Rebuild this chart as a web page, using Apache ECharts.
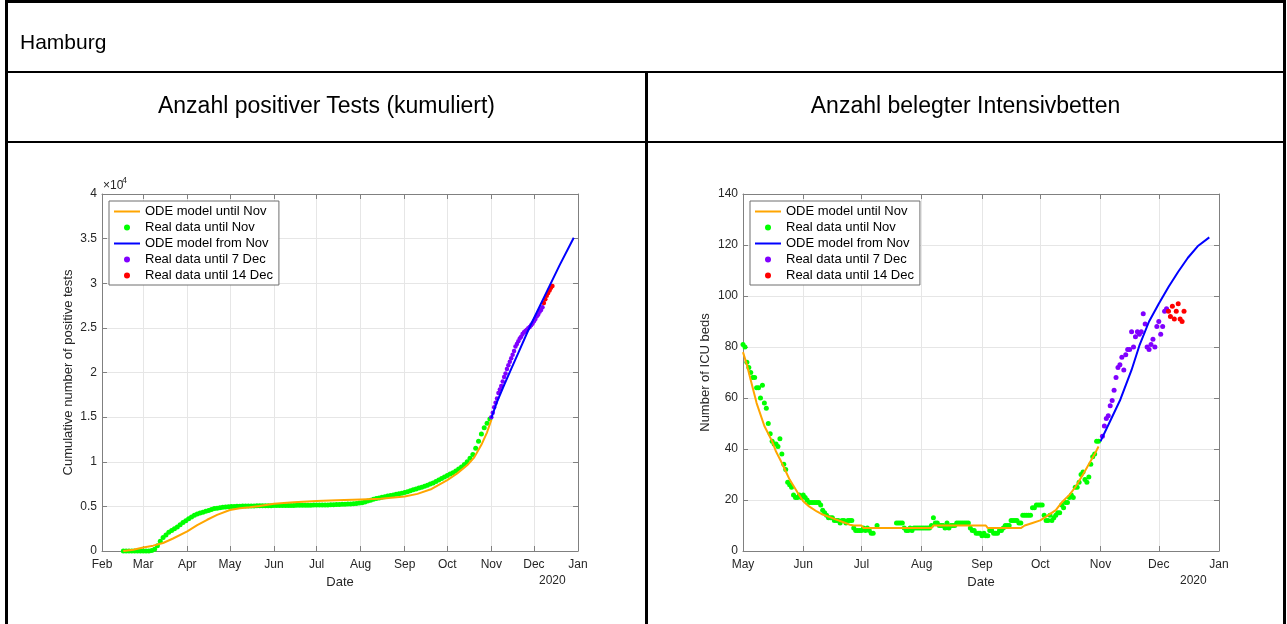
<!DOCTYPE html>
<html lang="de">
<head>
<meta charset="UTF-8">
<title>Hamburg</title>
<script src="https://cdn.jsdelivr.net/npm/echarts@6/dist/echarts.min.js"></script>
<style>
  body { margin:0; width:1287px; height:624px; overflow:hidden; background:#fff; position:relative;
         font-family:"Liberation Sans", Arial, Helvetica, sans-serif; }
  #main { position:absolute; left:0; top:0; width:1287px; height:624px; }
  .line { position:absolute; background:#000; }
  .txt { position:absolute; color:#000; white-space:nowrap; line-height:1; }
</style>
</head>
<body>
<div id="main"></div>

<!-- table frame -->
<div class="line" style="left:5px;top:0;width:1281px;height:3px"></div>
<div class="line" style="left:5px;top:0;width:3px;height:624px"></div>
<div class="line" style="left:1283px;top:0;width:3px;height:624px"></div>
<div class="line" style="left:5px;top:71px;width:1281px;height:2px"></div>
<div class="line" style="left:5px;top:141px;width:1281px;height:2px"></div>
<div class="line" style="left:645px;top:71px;width:3px;height:553px"></div>

<div class="txt" style="left:20px;top:31px;font-size:21px">Hamburg</div>
<div class="txt" style="left:8px;width:637px;top:94px;font-size:23px;text-align:center">Anzahl positiver Tests (kumuliert)</div>
<div class="txt" style="left:648px;width:635px;top:94px;font-size:23px;text-align:center">Anzahl belegter Intensivbetten</div>

<script>
// ---------- data: positive tests (cumulative) ----------
const testsRealStart = '2020-02-16';
const testsRealStep = 2;
const testsRealUntilNov = [
  // Feb
  0, 0, 0, 0, 0, 0, 0,
  // Mar
  0, 0, 0, 50, 200, 600, 1100, 1500, 1800, 2100, 2300, 2500, 2700, 2950, 3200, 3400,
  // Apr
  3600, 3800, 4000, 4150, 4250, 4350, 4450, 4550, 4650, 4750, 4800, 4850, 4900, 4930, 4960,
  // May
  4980, 5000, 5010, 5020, 5030, 5040, 5040, 5050, 5050, 5060, 5060, 5070, 5070, 5080, 5080,
  // Jun
  5090, 5090, 5100, 5100, 5100, 5110, 5110, 5110, 5120, 5120, 5120, 5130, 5130, 5140, 5150,
  // Jul
  5150, 5150, 5160, 5160, 5160, 5170, 5190, 5200, 5210, 5230, 5250, 5260, 5280, 5300, 5330, 5380,
  // Aug
  5420, 5500, 5600, 5700, 5800, 5880, 5950, 6020, 6080, 6150, 6220, 6280, 6350, 6420, 6480,
  // Sep
  6550, 6650, 6750, 6850, 6950, 7050, 7150, 7250, 7370, 7500, 7630, 7780, 7950, 8120, 8280,
  // Oct
  8450, 8620, 8780, 8950, 9180, 9420, 9700, 10000, 10400, 10800, 11500, 12300, 13100, 13800, 14300, 14800
];
const testsRealDecStart = '2020-11-01';
const testsRealUntil7Dec = [
  15000, 15500, 16100, 16600, 17100, 17700, 18100, 18500, 19000, 19500,
  19900, 20400, 20800, 21200, 21600, 22000, 22400, 22900, 23200, 23500,
  23800, 24000, 24300, 24500, 24650, 24800, 24950, 25100, 25300, 25500,
  25750, 26000, 26300, 26500, 26800, 27000, 27300
];
const testsReal14DecStart = '2020-12-08';
const testsRealUntil14Dec = [27800, 28200, 28600, 28900, 29200, 29500, 29700];

const testsModelDates = ['2020-02-16', '2020-02-23', '2020-03-01', '2020-03-08', '2020-03-15', '2020-03-22',
  '2020-04-01', '2020-04-08', '2020-04-15', '2020-04-22', '2020-05-01', '2020-05-08', '2020-05-15',
  '2020-05-22', '2020-06-01', '2020-06-15', '2020-07-01', '2020-07-15', '2020-08-01', '2020-08-15',
  '2020-09-01', '2020-09-10', '2020-09-20', '2020-10-01', '2020-10-08', '2020-10-15', '2020-10-20',
  '2020-10-25', '2020-10-29', '2020-11-01'];
const testsModelUntilNov = [0, 150, 400, 600, 900, 1400,
  2200, 2900, 3500, 4050, 4600, 4800, 4900,
  5050, 5300, 5450, 5600, 5680, 5780, 5850,
  6100, 6400, 6950, 7950, 8700, 9600, 10500,
  11900, 13300, 14700];
const testsModelFromDates = ['2020-11-01', '2020-11-05', '2020-11-10', '2020-11-15', '2020-11-20',
  '2020-11-28', '2020-12-05', '2020-12-12', '2020-12-19', '2020-12-29'];
const testsModelFromNov = [14900, 16700, 18600, 20400, 22200, 25100, 27400, 29700, 32000, 35100];

// ---------- data: ICU beds ----------
const icuRealStart = '2020-05-01';
const icuRealUntilNov = [
  // May
  81, 80, 74, 72, 70, 68, 68, 64, 64, 60, 65, 58, 56, 50, 46, 43, 42, 42, 41, 44,
  38, 34, 32, 27, 26, 25, 22, 21, 21, 22, 21,
  // Jun
  22, 21, 20, 19, 19, 19, 19, 19, 19, 18, 16, 15, 14, 13, 13, 13, 12, 12, 12, 11,
  12, 12, 11, 12, 12, 12, 9, 8, 8, 8,
  // Jul
  8, 9, 8, 9, 8, 7, 7, null, 10, null, null, null, null, null, null, null, null, null,
  11, 11, 11, 11, 9, 8, 8, 9, 8, 9, 9, 9, 9,
  // Aug
  9, 9, 9, 9, 9, 10, 13, 11, 11, 10, 10, 10, 9, 11, 9, 10, 10, 10, 11, 11,
  11, 11, 11, 11, 11, 9, 8, 8, 7, 7, 7,
  // Sep
  6, 7, 6, 6, 8, 8, 7, 7, 7, 8, 8, 9, 10, 10, 10, 12, 12, 12, 12, 11,
  11, 14, 14, 14, 14, 14, 17, 17, 18, 18,
  // Oct
  18, 18, 14, 12, 12, 14, 12, 13, 14, 15, 15, 18, 17, 19, 19, 21, 22, 21, 25, 25,
  27, 30, 31, 28, 27, 29, 34, 37, 38, 43, 43
];
const icuReal7DecStart = '2020-11-02';
const icuRealUntil7Dec = [45, 49, 52, 53, 57, 59, 63, 68, 72, 73, 76, 71, 77, 79, 79, 86, 80,
  84, 86, 85, 86, 93, 89, 80, 79, 81, 83, 80, 88, 90, 85, 88, 94, 95];
const icuReal14DecStart = '2020-12-06';
const icuRealUntil14Dec = [94, 92, 96, 91, 94, 97, 91, 90, 94];

const icuModelDates = ['2020-05-01', '2020-05-03', '2020-05-05', '2020-05-08', '2020-05-12', '2020-05-16',
  '2020-05-18', '2020-05-21', '2020-05-25', '2020-05-29', '2020-06-01', '2020-06-04', '2020-06-08',
  '2020-06-11', '2020-06-15', '2020-06-18', '2020-06-22', '2020-06-25', '2020-06-27', '2020-07-01',
  '2020-07-02', '2020-08-06', '2020-08-07', '2020-09-03', '2020-09-04', '2020-09-21', '2020-09-23',
  '2020-09-27', '2020-10-01', '2020-10-05', '2020-10-09', '2020-10-12', '2020-10-16', '2020-10-19',
  '2020-10-23', '2020-10-26', '2020-10-29', '2020-10-31'];
const icuModelUntilNov = [78, 73, 67, 58, 49, 43,
  39, 34.5, 28, 23, 19.5, 17.5, 15.5,
  14.3, 13.2, 12.3, 11.2, 10.3, 10, 10,
  9, 9, 10, 10, 9, 9, 10,
  11, 12, 14, 16, 19, 22, 25,
  30, 34, 38, 41];
const icuModelFromDates = ['2020-11-01', '2020-11-06', '2020-11-11', '2020-11-17', '2020-11-21',
  '2020-11-26', '2020-12-01', '2020-12-06', '2020-12-11', '2020-12-16', '2020-12-21', '2020-12-27'];
const icuModelFromNov = [43, 51, 59, 71, 80.5, 90, 97, 103.5, 109.5, 115, 119.5, 123];

const monthNames = ['Jan', 'Feb', 'Mar', 'Apr', 'May', 'Jun', 'Jul', 'Aug', 'Sep', 'Oct', 'Nov', 'Dec'];
const seriesNames = ['ODE model until Nov', 'Real data until Nov', 'ODE model from Nov',
  'Real data until 7 Dec', 'Real data until 14 Dec'];

// ---------- helpers ----------
const DAY = 86400000;
const ts = s => Date.UTC(+s.slice(0, 4), +s.slice(5, 7) - 1, +s.slice(8, 10));
const stepped = (start, step, vals) => vals.map((v, i) => [ts(start) + i * step * DAY, v]);
const paired = (dates, vals) => dates.map((d, i) => [ts(d), vals[i]]);

const FONT = '"Liberation Sans", Arial, Helvetica, sans-serif';
const axisColor = '#808080';
const gridColor = '#e6e6e6';
const textColor = '#262626';
const cOrange = '#ffa500', cGreen = '#00ff00', cBlue = '#0000ff', cPurple = '#8000ff', cRed = '#ff0000';

function xAxisOf(gridIndex, min, max, split, bottom) {
  return {
    type: 'time', gridIndex, position: bottom ? 'bottom' : 'top',
    min: ts(min), max: ts(max), splitNumber: split, maxInterval: 31 * DAY,
    name: bottom ? 'Date' : '', nameLocation: 'middle', nameGap: 24,
    nameTextStyle: { fontFamily: FONT, fontSize: 13, color: textColor },
    axisLine: { show: true, onZero: false, lineStyle: { color: axisColor, width: 1 } },
    axisTick: { show: true, inside: true, length: 5, lineStyle: { color: axisColor } },
    axisLabel: {
      show: bottom, fontFamily: FONT, fontSize: 12, color: textColor, margin: 8,
      showMinLabel: true, showMaxLabel: true,
      formatter: v => monthNames[new Date(v).getUTCMonth()]
    },
    splitLine: { show: bottom, lineStyle: { color: gridColor, width: 1 } }
  };
}
function yAxisOf(gridIndex, max, interval, left, name, gap, fmt) {
  return {
    type: 'value', gridIndex, position: left ? 'left' : 'right',
    min: 0, max, interval,
    name: left ? name : '', nameLocation: 'middle', nameGap: gap,
    nameTextStyle: { fontFamily: FONT, fontSize: 13, color: textColor },
    axisLine: { show: true, onZero: false, lineStyle: { color: axisColor, width: 1 } },
    axisTick: { show: true, inside: true, length: 5, lineStyle: { color: axisColor } },
    axisLabel: { show: left, fontFamily: FONT, fontSize: 12, color: textColor, margin: 5, formatter: fmt },
    splitLine: { show: left, lineStyle: { color: gridColor, width: 1 } }
  };
}
function legendOf(left) {
  return {
    left, top: 201, orient: 'vertical', selectedMode: false,
    itemWidth: 26, itemHeight: 6, itemGap: 3, itemTextGap: 4,
    padding: [4, 6, 3, 4], backgroundColor: '#fff', borderColor: '#6e6e6e', borderWidth: 1,
    textStyle: { fontFamily: FONT, fontSize: 13, color: '#000' },
    data: [
      { name: seriesNames[0], itemStyle: { opacity: 0 } },
      { name: seriesNames[1], icon: 'circle' },
      { name: seriesNames[2], itemStyle: { opacity: 0 } },
      { name: seriesNames[3], icon: 'circle' },
      { name: seriesNames[4], icon: 'circle' }
    ]
  };
}
const lineSeries = (name, color, xi, data) => ({
  name, type: 'line', xAxisIndex: xi, yAxisIndex: xi, data, symbol: 'none',
  lineStyle: { color, width: 2 }, itemStyle: { color }, silent: true
});
const dotSeries = (name, color, xi, data, size) => ({
  name, type: 'scatter', xAxisIndex: xi, yAxisIndex: xi, data, symbol: 'circle', symbolSize: size,
  itemStyle: { color, opacity: 1 }, silent: true
});

const chart = echarts.init(document.getElementById('main'));
chart.setOption({
  animation: false,
  useUTC: true,
  grid: [
    { left: 102, top: 194, width: 476, height: 357 },
    { left: 743, top: 194, width: 476, height: 357 }
  ],
  xAxis: [
    xAxisOf(0, '2020-02-01', '2021-01-01', 11, true),
    xAxisOf(1, '2020-05-01', '2021-01-01', 8, true),
    xAxisOf(0, '2020-02-01', '2021-01-01', 11, false),
    xAxisOf(1, '2020-05-01', '2021-01-01', 8, false)
  ],
  yAxis: [
    yAxisOf(0, 40000, 5000, true, 'Cumulative number of positive tests', 27, v => String(v / 10000)),
    yAxisOf(1, 140, 20, true, 'Number of ICU beds', 31),
    yAxisOf(0, 40000, 5000, false),
    yAxisOf(1, 140, 20, false)
  ],
  legend: [legendOf(109), legendOf(750)],
  graphic: [
    { type: 'text', left: 103, top: 180, style: { text: '×10', font: '12px ' + FONT, fill: textColor } },
    { type: 'text', left: 122, top: 176, style: { text: '4', font: '9px ' + FONT, fill: textColor } },
    { type: 'text', left: 539, top: 575, style: { text: '2020', font: '12px ' + FONT, fill: textColor } },
    { type: 'text', left: 1180, top: 575, style: { text: '2020', font: '12px ' + FONT, fill: textColor } }
  ],
  series: [
    lineSeries(seriesNames[0], cOrange, 0, paired(testsModelDates, testsModelUntilNov)),
    dotSeries(seriesNames[1], cGreen, 0, stepped(testsRealStart, testsRealStep, testsRealUntilNov), 5),
    lineSeries(seriesNames[2], cBlue, 0, paired(testsModelFromDates, testsModelFromNov)),
    dotSeries(seriesNames[3], cPurple, 0, stepped(testsRealDecStart, 1, testsRealUntil7Dec), 4.5),
    dotSeries(seriesNames[4], cRed, 0, stepped(testsReal14DecStart, 1, testsRealUntil14Dec), 4.5),

    lineSeries(seriesNames[0], cOrange, 1, paired(icuModelDates, icuModelUntilNov)),
    dotSeries(seriesNames[1], cGreen, 1, stepped(icuRealStart, 1, icuRealUntilNov), 5),
    lineSeries(seriesNames[2], cBlue, 1, paired(icuModelFromDates, icuModelFromNov)),
    dotSeries(seriesNames[3], cPurple, 1, stepped(icuReal7DecStart, 1, icuRealUntil7Dec), 5),
    dotSeries(seriesNames[4], cRed, 1, stepped(icuReal14DecStart, 1, icuRealUntil14Dec), 5)
  ]
});
</script>
</body>
</html>
